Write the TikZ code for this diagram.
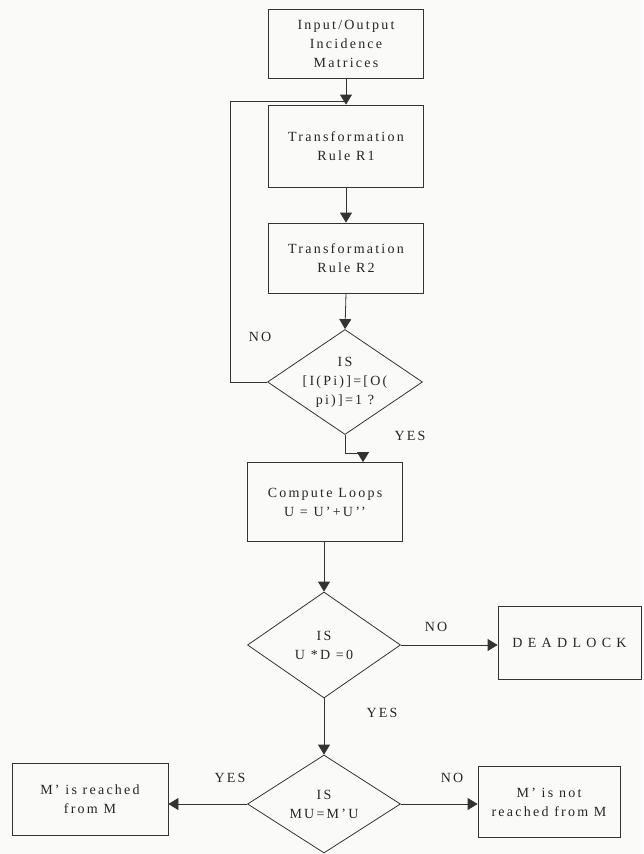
\documentclass[tikz,border=0pt]{standalone}
\usepackage{fontspec}
\setmainfont{Liberation Serif}[LetterSpace=16]
\usetikzlibrary{shapes.geometric,arrows.meta}
\definecolor{ink}{HTML}{333333}
\definecolor{txt}{HTML}{262626}
\definecolor{paper}{HTML}{FAFAF8}
\tikzset{
  box/.style={draw=ink, line width=0.8pt, align=center, inner sep=0pt,
    text=txt, font=\fontsize{14}{19}\selectfont},
  dec/.style={draw=ink, line width=0.8pt, shape=diamond, inner sep=0pt},
  dtext/.style={align=center, inner sep=0pt, text=txt,
    font=\fontsize{14}{19}\selectfont},
  lab/.style={inner sep=0pt, text=txt, font=\fontsize{14}{15}\selectfont},
  link/.style={draw=ink, line width=0.8pt},
  arr/.style={link, -{Triangle[length=10pt,width=12pt]}}
}
\begin{document}
\begin{tikzpicture}[x=1pt,y=-1pt]
  % page
  \fill[paper] (0,0) rectangle (643,854);
  \useasboundingbox (0,0) rectangle (643,854);

  % main column
  \node[box, minimum width=155, minimum height=69] (inp) at (346,44)
    {Input/Output\\Incidence\\Matrices};
  \node[box, minimum width=155, minimum height=82] (r1) at (346,146)
    {Transformation\\Rule R1};
  \node[box, minimum width=155, minimum height=70] (r2) at (346,258)
    {Transformation\\Rule R2};
  \node[dec, minimum width=155, minimum height=105] (d1) at (345,382) {};
  \node[dtext] (d1t) at (d1.center) {IS\\{}[I(Pi)]=[O(\\pi)]=1 ?};
  \node[box, minimum width=155, minimum height=79] (loops) at (325,502)
    {Compute Loops\\U = U'+U'{}'};
  \node[dec, minimum width=153, minimum height=106] (d2) at (324,645) {};
  \node[dtext] (d2t) at (d2.center) {IS\\U *D =0};
  \node[box, minimum width=143, minimum height=73,
        font=\fontsize{14}{19}\selectfont\addfontfeatures{LetterSpace=38}]
    (dead) at (569.5,643) {DEADLOCK};
  \node[dec, minimum width=153, minimum height=98] (d3) at (324,804) {};
  \node[dtext] (d3t) at (d3.center) {IS\\MU=M'U};
  \node[box, minimum width=156, minimum height=72] (reach) at (90,799)
    {M' is reached\\from M};
  \node[box, minimum width=142, minimum height=71] (noreach) at (549,802)
    {M' is not\\reached from M};

  % branch labels
  \node[lab] (no1)  at (260,337) {NO};
  \node[lab] (yes1) at (410,436) {YES};
  \node[lab] (no2)  at (436,627) {NO};
  \node[lab] (yes2) at (382,713) {YES};
  \node[lab] (yes3) at (230,778) {YES};
  \node[lab] (no3)  at (452,778) {NO};

  % connectors
  \coordinate (join) at (346,101);
  \coordinate (lpA) at (230,382);
  \coordinate (lpB) at (230,101);
  \draw[arr] (inp.south) -- (r1.north);
  \draw[link] (d1.west) -- (lpA) -- (lpB) -- (join);
  \draw[arr] (r1.south) -- (r2.north);
  \draw[arr] (r2.south) -- (d1.north);
  \coordinate (yA) at (345,453);
  \coordinate (yB) at (363,453);
  \draw[arr] (d1.south) -- (yA) -- (yB) -- (yB |- loops.north);
  \draw[arr] (loops.south -| d2.north) -- (d2.north);
  \draw[arr] (d2.east) -- (dead.west |- d2.east);
  \draw[arr] (d2.south) -- (d3.north);
  \draw[arr] (d3.west) -- (reach.east |- d3.west);
  \draw[arr] (d3.east) -- (noreach.west |- d3.east);
\end{tikzpicture}
\end{document}
